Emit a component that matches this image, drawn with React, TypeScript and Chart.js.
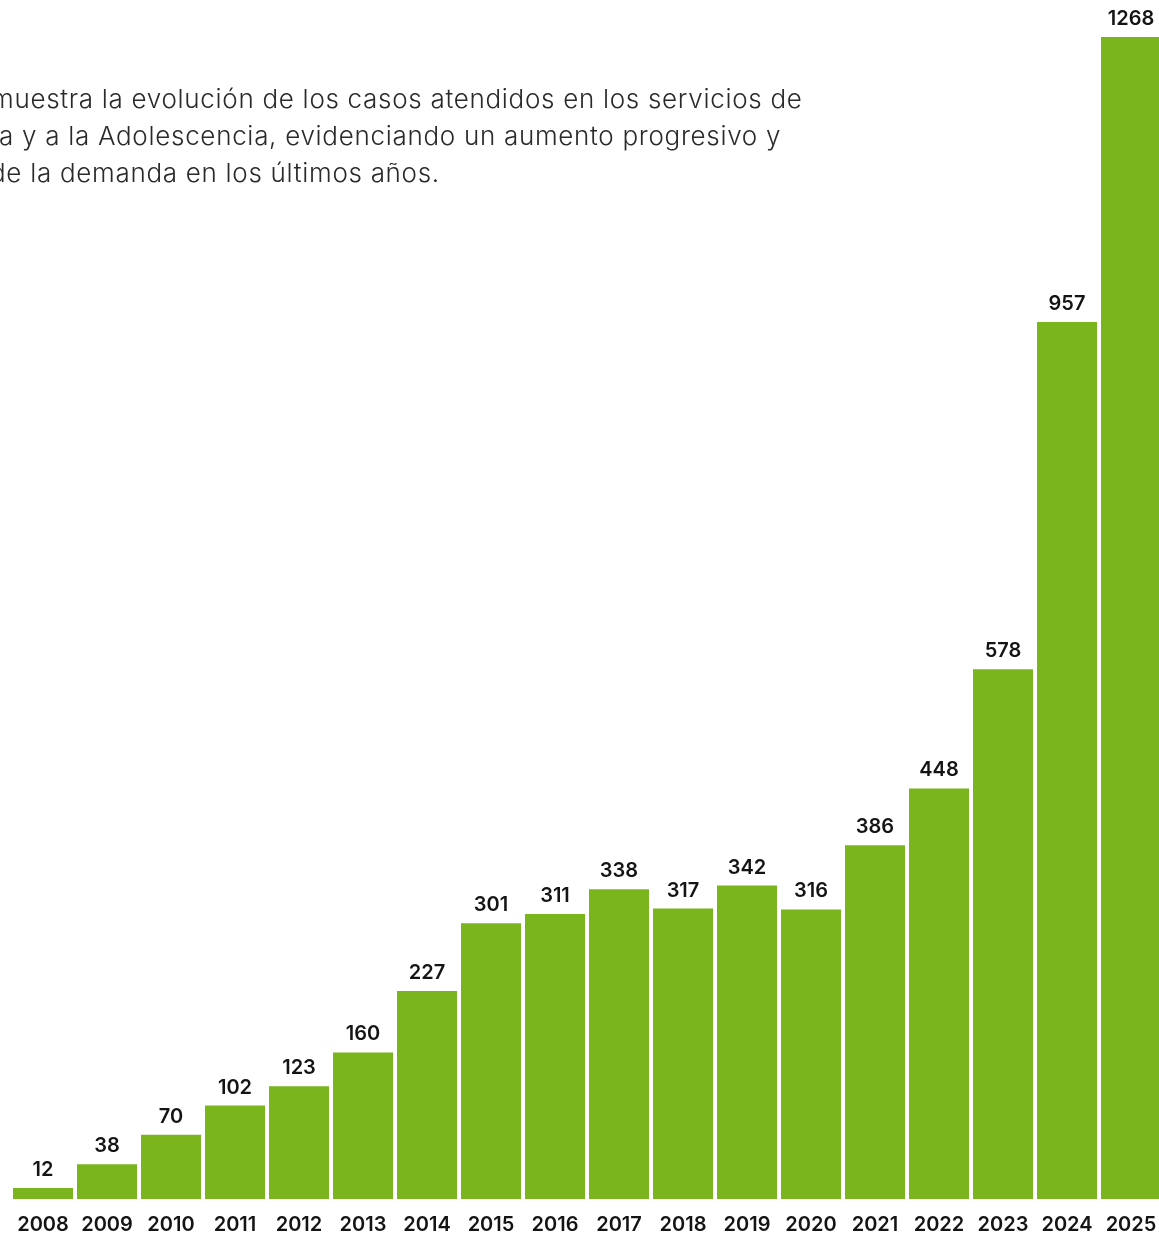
import React, { useEffect, useRef } from "react";
import { Chart, registerables } from "chart.js";

Chart.register(...registerables);

const years = ["2008","2009","2010","2011","2012","2013","2014","2015","2016","2017","2018","2019","2020","2021","2022","2023","2024","2025"];
const cases = [12, 38, 70, 102, 123, 160, 227, 301, 311, 338, 317, 342, 316, 386, 448, 578, 957, 1268];
const descLines = [
  "muestra la evolución de los casos atendidos en los servicios de",
  "a y a la Adolescencia, evidenciando un aumento progresivo y",
  "de la demanda en los últimos años.",
];

const GREEN = "#7ab51e";

const valueLabels = {
  id: "valueLabels",
  afterDatasetsDraw(chart: any) {
    const ctx = chart.ctx;
    const meta = chart.getDatasetMeta(0);
    ctx.save();
    ctx.font = "600 20px Inter";
    ctx.fillStyle = "#141414";
    ctx.textAlign = "center";
    ctx.textBaseline = "middle";
    meta.data.forEach((bar: any, i: number) => {
      ctx.fillText(String(chart.data.datasets[0].data[i]), bar.x, bar.y - 18);
    });
    ctx.restore();
  },
};

export default function App() {
  const ref = useRef<HTMLCanvasElement>(null);
  useEffect(() => {
    if (!ref.current) return;
    const chart = new Chart(ref.current, {
      type: "bar",
      data: {
        labels: years,
        datasets: [{ data: cases, backgroundColor: GREEN, barPercentage: 0.9375, categoryPercentage: 1 }],
      },
      options: {
        animation: false,
        responsive: false,
        maintainAspectRatio: false,
        devicePixelRatio: 1,
        layout: { padding: { left: 11, right: 12, top: 37, bottom: 0 } },
        plugins: { legend: { display: false }, tooltip: { enabled: false } },
        scales: {
          x: {
            grid: { display: false },
            border: { display: false },
            ticks: { color: "#141414", font: { family: "Inter", size: 20, weight: 600 }, padding: 6, maxRotation: 0, autoSkip: false },
          },
          y: { display: false, min: 0, max: 1268 },
        },
      },
      plugins: [valueLabels],
    });
    return () => chart.destroy();
  }, []);
  return (
    <div style={{ position: "fixed", left: 0, top: 0, width: 1159, height: 1235, overflow: "hidden", background: "#fff" }}>
      <canvas ref={ref} width={1175} height={1243} style={{ position: "absolute", left: 0, top: 0, width: 1175, height: 1243 }} />
      {descLines.map((t, i) => (
        <div
          key={i}
          style={{
            position: "absolute",
            left: i === 0 ? -9 : i === 2 ? -10 : -1,
            top: 82 + i * 37,
            fontFamily: "Inter",
            fontWeight: 300,
            fontSize: 26,
            letterSpacing: "0.7px",
            lineHeight: "34px",
            color: "#2a2a2a",
            whiteSpace: "nowrap",
          }}
        >
          {t}
        </div>
      ))}
    </div>
  );
}
